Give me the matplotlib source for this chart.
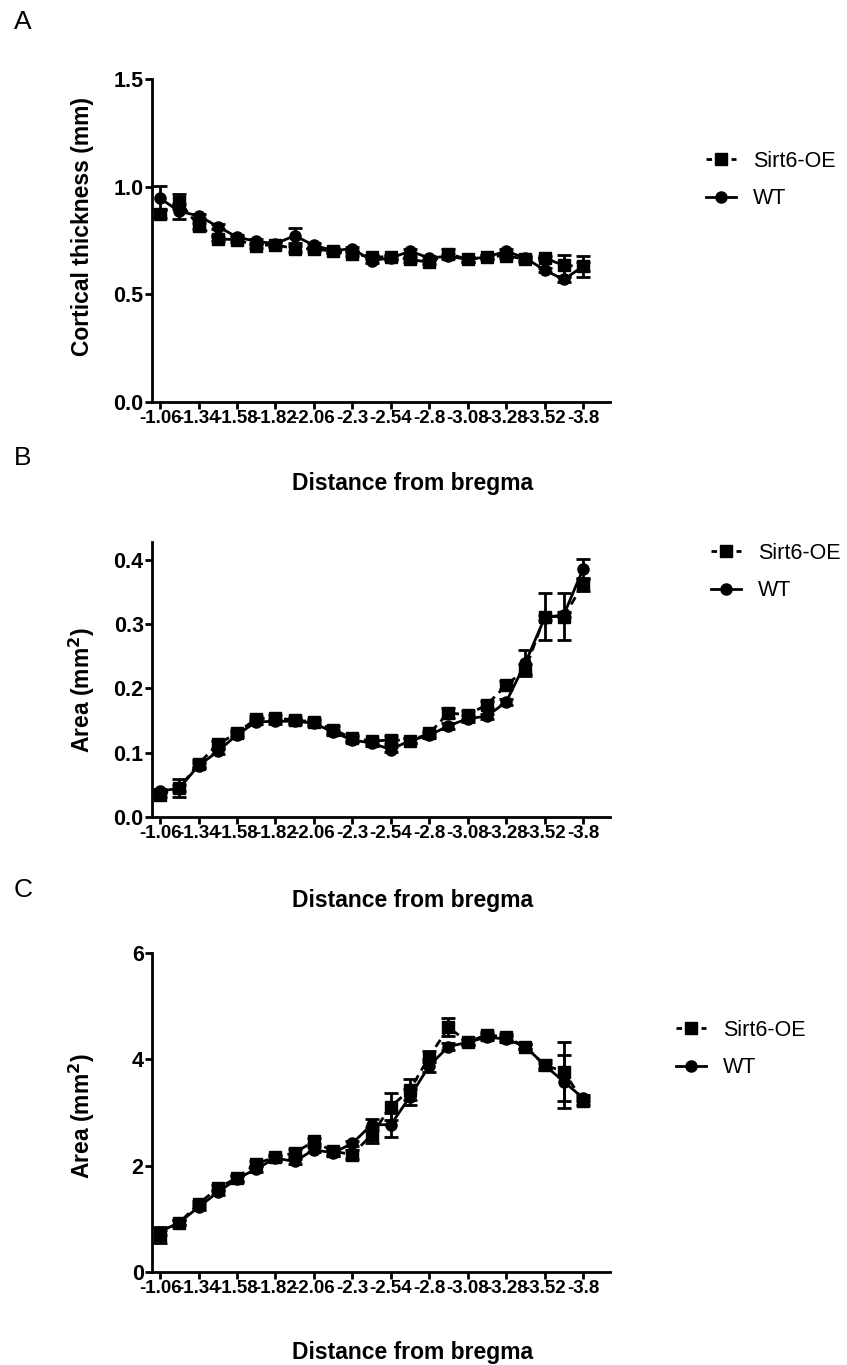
import matplotlib
matplotlib.use("Agg")
import matplotlib.pyplot as plt
from matplotlib.lines import Line2D
import numpy as np

plt.rcParams['font.family'] = ['Liberation Sans', 'DejaVu Sans']

# === DATA ===
tick_labels = ["-1.06", "-1.34", "-1.58", "-1.82", "-2.06", "-2.3",
               "-2.54", "-2.8", "-3.08", "-3.28", "-3.52", "-3.8"]

# panel A: cortical thickness (mm)
a_oe = [0.874, 0.93, 0.818, 0.757, 0.754, 0.726, 0.731, 0.711, 0.711, 0.70, 0.688, 0.674,
        0.674, 0.662, 0.649, 0.689, 0.662, 0.674, 0.68, 0.662, 0.669, 0.634, 0.63]
a_oe_err = [0.02, 0.035, 0.015, 0.01, 0.01, 0.01, 0.01, 0.015, 0.01, 0.01, 0.01, 0.01,
            0.01, 0.01, 0.01, 0.02, 0.01, 0.01, 0.01, 0.01, 0.01, 0.05, 0.05]
a_wt = [0.946, 0.885, 0.865, 0.815, 0.766, 0.746, 0.735, 0.772, 0.728, 0.703, 0.712, 0.657,
        0.669, 0.70, 0.669, 0.677, 0.662, 0.674, 0.70, 0.669, 0.612, 0.569, 0.63]
a_wt_err = [0.055, 0.035, 0.01, 0.01, 0.01, 0.01, 0.01, 0.035, 0.01, 0.01, 0.01, 0.01,
            0.01, 0.01, 0.01, 0.01, 0.01, 0.01, 0.01, 0.01, 0.01, 0.01, 0.02]

# panel B: area (mm2)
b_oe = [0.035, 0.045, 0.083, 0.113, 0.131, 0.153, 0.154, 0.151, 0.148, 0.136, 0.123, 0.118,
        0.12, 0.119, 0.13, 0.162, 0.159, 0.175, 0.205, 0.23, 0.312, 0.312, 0.362]
b_oe_err = [0.004, 0.014, 0.005, 0.006, 0.004, 0.004, 0.004, 0.004, 0.004, 0.005, 0.004, 0.004,
            0.006, 0.004, 0.004, 0.008, 0.006, 0.006, 0.006, 0.008, 0.036, 0.037, 0.01]
b_wt = [0.040, 0.045, 0.080, 0.102, 0.128, 0.148, 0.149, 0.149, 0.146, 0.132, 0.12, 0.115,
        0.105, 0.119, 0.127, 0.142, 0.153, 0.157, 0.179, 0.24, 0.31, 0.315, 0.386]
b_wt_err = [0.003, 0.005, 0.004, 0.004, 0.004, 0.004, 0.004, 0.004, 0.004, 0.004, 0.004, 0.004,
            0.004, 0.004, 0.004, 0.005, 0.005, 0.004, 0.004, 0.02, 0.004, 0.004, 0.016]

# panel C: area (mm2)
c_oe = [0.70, 0.93, 1.28, 1.58, 1.77, 2.04, 2.16, 2.24, 2.46, 2.27, 2.21, 2.58,
        3.11, 3.43, 4.05, 4.60, 4.33, 4.46, 4.42, 4.24, 3.89, 3.77, 3.21]
c_oe_err = [0.15, 0.05, 0.06, 0.06, 0.05, 0.05, 0.05, 0.07, 0.06, 0.06, 0.08, 0.15,
            0.25, 0.2, 0.1, 0.17, 0.06, 0.06, 0.06, 0.05, 0.1, 0.56, 0.06]
c_wt = [0.76, 0.93, 1.22, 1.50, 1.75, 1.94, 2.14, 2.08, 2.30, 2.24, 2.42, 2.77,
        2.77, 3.30, 3.88, 4.24, 4.32, 4.42, 4.38, 4.24, 3.89, 3.58, 3.27]
c_wt_err = [0.06, 0.05, 0.05, 0.05, 0.05, 0.05, 0.05, 0.05, 0.05, 0.05, 0.05, 0.1,
            0.23, 0.15, 0.12, 0.06, 0.05, 0.05, 0.05, 0.05, 0.05, 0.5, 0.05]

x = np.arange(len(a_oe))

W, H = 847, 1365
fig = plt.figure(figsize=(W / 100, H / 100), dpi=100)

def fx(px):
    return px / W

def fy(py):
    return 1 - py / H

# (letter, axes rect, data..., ylim, yticks, fmt, ylabel, ylabel y, xlabel y, letter y, legend center y, legend x)
panels = [
    ("A", [fx(152), fy(402), fx(458), (402 - 79) / H], a_oe, a_oe_err, a_wt, a_wt_err,
     (0, 1.5), [0.0, 0.5, 1.0, 1.5], "{:.1f}", "Cortical thickness (mm)", 227, 483, 22, 180, 706),
    ("B", [fx(152), fy(817), fx(458), (817 - 542) / H], b_oe, b_oe_err, b_wt, b_wt_err,
     (0, 0.428), [0.0, 0.1, 0.2, 0.3, 0.4], "{:.1f}", "Area (mm$^\\mathbf{2}$)", 690, 900, 458, 572, 711),
    ("C", [fx(152), fy(1272), fx(458), (1272 - 953) / H], c_oe, c_oe_err, c_wt, c_wt_err,
     (0, 6), [0, 2, 4, 6], "{:.0f}", "Area (mm$^\\mathbf{2}$)", 1116, 1352, 890, 1049, 676),
]

for (letter, rect, oe, oe_err, wt, wt_err, ylim, yticks, fmt, ylabel,
     ylab_y, xlab_y, let_y, leg_y, leg_x) in panels:
    ax = fig.add_axes(rect)
    ax.errorbar(x, oe, yerr=oe_err, color='black', ls=(0, (3, 2)), lw=2, marker='s',
                ms=8, capsize=5, capthick=2, elinewidth=2)
    ax.errorbar(x, wt, yerr=wt_err, color='black', ls='-', lw=2, marker='o',
                ms=8, capsize=5, capthick=2, elinewidth=2)
    ax.set_xlim(-0.42, 23.4)
    ax.set_ylim(*ylim)
    ax.set_yticks(yticks)
    ax.set_yticklabels([fmt.format(v) for v in yticks], fontsize=15.5, fontweight='bold')
    ax.set_xticks(x[::2])
    ax.set_xticklabels(tick_labels, fontsize=13.5, fontweight='bold')
    ax.tick_params(width=2, length=5, pad=1)
    for s in ['top', 'right']:
        ax.spines[s].set_visible(False)
    for s in ['left', 'bottom']:
        ax.spines[s].set_linewidth(2)

    fig.text(fx(82), fy(ylab_y), ylabel, rotation=90, ha='center', va='center',
             fontsize=16.5, fontweight='bold')
    fig.text(fx(413), fy(xlab_y), "Distance from bregma", ha='center', va='center',
             fontsize=16.5, fontweight='bold')
    fig.text(fx(14), fy(let_y), letter, ha='left', va='center', fontsize=19)

    handles = [Line2D([], [], color='black', ls=(0, (2, 2.5)), lw=2, marker='s', ms=8),
               Line2D([], [], color='black', ls='-', lw=2, marker='o', ms=8)]
    fig.legend(handles, ['Sirt6-OE', 'WT'], loc='center left',
               bbox_to_anchor=(fx(leg_x), fy(leg_y)), frameon=False, fontsize=15.5,
               handlelength=1.4, handletextpad=0.8, labelspacing=0.75, borderpad=0, borderaxespad=0)

fig.savefig("out.png", dpi=100)
